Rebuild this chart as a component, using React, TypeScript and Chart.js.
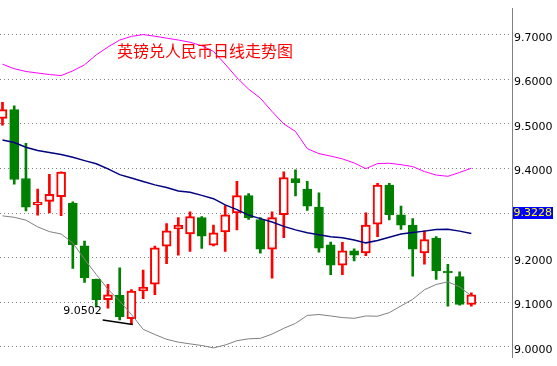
import React, { useEffect, useRef } from 'react';
import { Chart, registerables } from 'chart.js';

Chart.register(...registerables);

const TITLE = '英镑兑人民币日线走势图';

const OPEN = [9.5122, 9.5321, 9.3776, 9.3184, 9.3263, 9.3370, 9.3227, 9.2265, 9.1517, 9.1062, 9.1154, 9.0635, 9.1254, 9.1404, 9.2259, 9.2643, 9.2536, 9.2900, 9.2280, 9.2579, 9.3006, 9.3391, 9.2857, 9.2194, 9.2964, 9.3776, 9.3541, 9.3135, 9.2286, 9.1831, 9.2152, 9.2109, 9.2750, 9.3626, 9.2964, 9.2729, 9.2109, 9.2436, 9.1700, 9.1575, 9.0955];
const HIGH = [9.5485, 9.5406, 9.4566, 9.3541, 9.3868, 9.3925, 9.3254, 9.2372, 9.1520, 9.1404, 9.1774, 9.1288, 9.1724, 9.2259, 9.2763, 9.2900, 9.3028, 9.2921, 9.2729, 9.3169, 9.3712, 9.3440, 9.2900, 9.3028, 9.3925, 9.3968, 9.3712, 9.3455, 9.2350, 9.2344, 9.2201, 9.3006, 9.3669, 9.3669, 9.3156, 9.2878, 9.2600, 9.2472, 9.1853, 9.1682, 9.1212];
const LOW = [9.4972, 9.3648, 9.3049, 9.2955, 9.3006, 9.2942, 9.1759, 9.1447, 9.0897, 9.0870, 9.0605, 9.0502, 9.1083, 9.1169, 9.1865, 9.2058, 9.2143, 9.2207, 9.2265, 9.2143, 9.2622, 9.2857, 9.2100, 9.1539, 9.2451, 9.3383, 9.3062, 9.2122, 9.1618, 9.1618, 9.1930, 9.2045, 9.2472, 9.2848, 9.2635, 9.1588, 9.1853, 9.1511, 9.0912, 9.0934, 9.0912];
const CLOSE = [9.5321, 9.3754, 9.3135, 9.3242, 9.3419, 9.3921, 9.2293, 9.1545, 9.1058, 9.1169, 9.0677, 9.1254, 9.1340, 9.2222, 9.2600, 9.2729, 9.2921, 9.2485, 9.2558, 9.2964, 9.3391, 9.2900, 9.2194, 9.2900, 9.3797, 9.3682, 9.3156, 9.2216, 9.1831, 9.2152, 9.2058, 9.2729, 9.3626, 9.2964, 9.2729, 9.2194, 9.2408, 9.1703, 9.1660, 9.0955, 9.1169];

const UPPER = [9.6338, 9.6237, 9.6175, 9.6141, 9.6107, 9.6083, 9.6190, 9.6325, 9.6547, 9.6725, 9.6880, 9.6962, 9.7002, 9.6966, 9.6923, 9.6880, 9.6831, 9.6752, 9.6624, 9.6340, 9.6036, 9.5780, 9.5577, 9.5278, 9.5000, 9.4829, 9.4445, 9.4333, 9.4278, 9.4216, 9.4124, 9.3996, 9.4111, 9.4118, 9.4086, 9.4043, 9.3932, 9.3853, 9.3825, 9.3912, 9.4006];
const MIDDLE = [9.4637, 9.4583, 9.4477, 9.4406, 9.4359, 9.4312, 9.4252, 9.4177, 9.4107, 9.3992, 9.3863, 9.3786, 9.3707, 9.3633, 9.3573, 9.3498, 9.3468, 9.3398, 9.3323, 9.3184, 9.3077, 9.2955, 9.2876, 9.2799, 9.2703, 9.2624, 9.2558, 9.2517, 9.2472, 9.2447, 9.2395, 9.2333, 9.2387, 9.2457, 9.2530, 9.2564, 9.2596, 9.2633, 9.2639, 9.2596, 9.2543];
const LOWER = [9.2938, 9.2906, 9.2842, 9.2692, 9.2585, 9.2532, 9.2329, 9.1966, 9.1624, 9.1293, 9.1026, 9.0727, 9.0395, 9.0278, 9.0171, 9.0107, 9.0068, 9.0032, 8.9979, 9.0043, 9.0139, 9.0182, 9.0192, 9.0288, 9.0417, 9.0528, 9.0705, 9.0727, 9.0694, 9.0658, 9.0641, 9.0694, 9.0688, 9.0769, 9.0919, 9.1068, 9.1282, 9.1400, 9.1459, 9.1346, 9.1143];

const Y_TICKS = [9.0, 9.1, 9.2, 9.3, 9.4, 9.5, 9.6, 9.7];
const CURRENT_PRICE = 9.3228;
const LOW_LABEL = '9.0502';
const LOW_LINE_X = [8.55, 11.11];
const LOW_LINE_Y = [9.0605, 9.0505];

const X_MIN = -0.213;
const X_MAX = 43.47;
const Y_MIN = 8.9765;
const Y_MAX = 9.7585;

const RED = '#FF0000';
const GREEN = '#008000';

const overlayPlugin = {
  id: 'overlay',
  afterDraw(chart: any) {
    const { ctx, chartArea, scales } = chart;
    const xs = scales.x;
    const ys = scales.y;
    ctx.save();
    // title
    ctx.font = '16px "Noto Sans CJK SC"';
    ctx.fillStyle = RED;
    ctx.textBaseline = 'middle';
    ctx.textAlign = 'left';
    ctx.fillText(TITLE, chartArea.left + 117, chartArea.top + 42);
    // low label
    const lx = xs.getPixelForValue(LOW_LINE_X[0]);
    const ly = ys.getPixelForValue(LOW_LINE_Y[0]);
    ctx.font = '11px "DejaVu Sans"';
    ctx.fillStyle = '#000000';
    ctx.textAlign = 'right';
    ctx.fillText(LOW_LABEL, lx - 1, ly - 9);
    // current price box
    const py = ys.getPixelForValue(CURRENT_PRICE) + 10;
    ctx.fillStyle = '#0000FF';
    ctx.fillRect(chartArea.right + 1, Math.round(py - 6), 40, 12);
    ctx.fillStyle = '#FFFF00';
    ctx.textAlign = 'left';
    ctx.fillText(CURRENT_PRICE.toFixed(4), chartArea.right + 1.5, py + 0.5);
    ctx.restore();
  },
};

export default function App() {
  const ref = useRef<HTMLCanvasElement>(null);

  useEffect(() => {
    document.body.style.margin = '0';
    const idx = OPEN.map((_, i) => i);
    const up = idx.map((i) => CLOSE[i] >= OPEN[i]);

    const wicks = idx.map((i) => ({ x: i, y: [LOW[i], HIGH[i]] }));
    const bodies = idx.map((i) => ({ x: i, y: [Math.min(OPEN[i], CLOSE[i]), Math.max(OPEN[i], CLOSE[i])] }));
    const line = (arr: number[]) => arr.map((v, i) => ({ x: i, y: v }));

    const chart = new Chart(ref.current as HTMLCanvasElement, {
      type: 'line',
      data: {
        datasets: [
          {
            type: 'line',
            data: line(UPPER),
            borderColor: '#FF00FF',
            borderWidth: 1,
            pointRadius: 0,
            tension: 0,
            fill: false,
            order: 1,
          },
          {
            type: 'line',
            data: line(MIDDLE),
            borderColor: '#000080',
            borderWidth: 1.5,
            pointRadius: 0,
            tension: 0,
            fill: false,
            order: 1,
          },
          {
            type: 'line',
            data: line(LOWER),
            borderColor: '#808080',
            borderWidth: 1,
            pointRadius: 0,
            tension: 0,
            fill: false,
            order: 1,
          },
          {
            type: 'line',
            data: LOW_LINE_X.map((x, i) => ({ x, y: LOW_LINE_Y[i] })),
            borderColor: '#000000',
            borderWidth: 1.5,
            pointRadius: 0,
            tension: 0,
            fill: false,
            order: 0,
          },
          {
            type: 'bar',
            data: bodies as any,
            backgroundColor: idx.map((i) => (up[i] ? '#FFFFFF' : GREEN)),
            borderColor: idx.map((i) => (up[i] ? RED : GREEN)),
            borderWidth: idx.map((i) => (up[i] ? 2 : 1)),
            borderSkipped: false,
            barThickness: 9,
            grouped: false,
            order: 3,
          } as any,
          {
            type: 'bar',
            data: wicks as any,
            backgroundColor: idx.map((i) => (up[i] ? RED : GREEN)),
            borderWidth: 0,
            barThickness: 2,
            grouped: false,
            order: 4,
          } as any,
        ],
      },
      options: {
        responsive: false,
        animation: false,
        events: [],
        layout: { padding: 0 },
        plugins: {
          legend: { display: false },
          tooltip: { enabled: false },
          title: { display: false },
        },
        scales: {
          x: {
            type: 'linear',
            min: X_MIN,
            max: X_MAX,
            offset: false,
            display: false,
            grid: { offset: false },
          },
          y: {
            type: 'linear',
            position: 'right',
            min: Y_MIN,
            max: Y_MAX,
            beginAtZero: false,
            afterBuildTicks: (scale: any) => {
              scale.ticks = Y_TICKS.map((v) => ({ value: v }));
            },
            afterFit: (scale: any) => {
              scale.width = 45;
            },
            grid: {
              color: '#808080',
              lineWidth: 1,
              drawTicks: false,
            },
            border: {
              display: true,
              color: '#808080',
              width: 1,
              dash: [1, 3],
            },
            ticks: {
              padding: 2,
              labelOffset: 3,
              color: '#000000',
              font: { family: '"DejaVu Sans"', size: 11 },
              callback: (v: any) => Number(v).toFixed(4),
            },
          },
        },
      } as any,
      plugins: [overlayPlugin],
    });

    return () => chart.destroy();
  }, []);

  return (
    <div style={{ width: 557, height: 366, position: 'relative' }}>
      <canvas ref={ref} width={557} height={366} style={{ display: 'block' }} />
    </div>
  );
}
